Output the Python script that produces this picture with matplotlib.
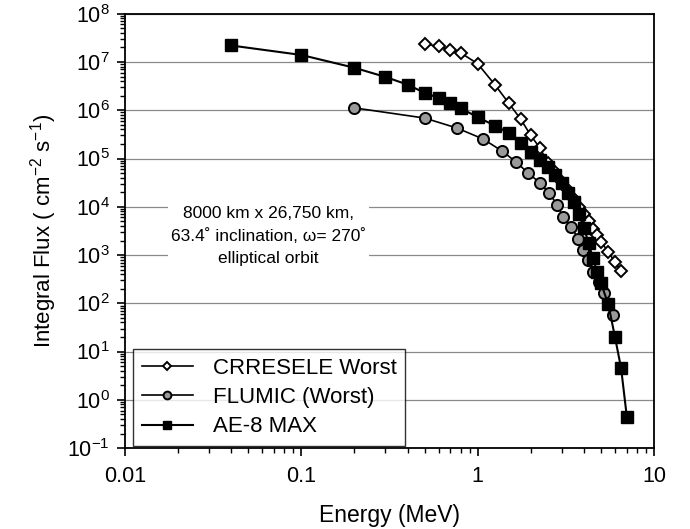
import matplotlib
matplotlib.use("Agg")
import matplotlib.pyplot as plt
from matplotlib.ticker import LogLocator, NullFormatter, FixedLocator, FixedFormatter

plt.rcParams["font.family"] = ["Liberation Sans", "DejaVu Sans"]

# CRRESELE worst case
crres_e = [0.5, 0.6, 0.7, 0.8, 1.0, 1.25, 1.5, 1.75, 2.0, 2.25, 2.5, 2.75, 3.0,
           3.25, 3.5, 3.75, 4.0, 4.25, 4.5, 4.75, 5.0, 5.5, 6.0, 6.5]
crres_f = [2.4e7, 2.1e7, 1.8e7, 1.55e7, 9.2e6, 3.4e6, 1.4e6, 6.6e5, 3.0e5, 1.66e5,
           8.1e4, 5.3e4, 3.2e4, 2.2e4, 1.45e4, 1.0e4, 7.0e3, 5.0e3, 3.5e3, 2.6e3,
           1.9e3, 1.15e3, 7.2e2, 4.6e2]

# FLUMIC (worst)
flumic_e = [0.2, 0.5, 0.76, 1.07, 1.37, 1.65, 1.93, 2.26, 2.54, 2.82, 3.05,
            3.39, 3.71, 3.96, 4.23, 4.52, 4.85, 5.21, 5.87]
flumic_f = [1.12e6, 6.9e5, 4.3e5, 2.55e5, 1.44e5, 8.5e4, 5.0e4, 3.1e4, 1.93e4,
            1.1e4, 6.2e3, 3.8e3, 2.2e3, 1.26e3, 790, 450, 280, 160, 57]

# AE-8 MAX
ae8_e = [0.04, 0.1, 0.2, 0.3, 0.4, 0.5, 0.6, 0.7, 0.8, 1.0, 1.25, 1.5, 1.75,
         2.0, 2.25, 2.5, 2.75, 3.0, 3.25, 3.5, 3.75, 4.0, 4.25, 4.5, 4.75,
         5.0, 5.5, 6.0, 6.5, 7.0]
ae8_f = [2.2e7, 1.4e7, 7.6e6, 4.9e6, 3.4e6, 2.3e6, 1.8e6, 1.4e6, 1.1e6, 7.2e5,
         4.8e5, 3.4e5, 2.1e5, 1.37e5, 9.4e4, 6.7e4, 4.6e4, 3.1e4, 1.95e4, 1.25e4,
         7.0e3, 3.6e3, 1.8e3, 8.5e2, 4.5e2, 2.6e2, 95, 20, 4.5, 0.45]

y_exps = list(range(-1, 9))
y_labels = ["10$^{\\mathregular{%d}}$" % e for e in y_exps]
x_ticks = [0.01, 0.1, 1, 10]
x_labels = ["0.01", "0.1", "1", "10"]

fig = plt.figure(figsize=(6.9, 5.29), dpi=100)
ax = fig.add_axes([0.181, 0.153, 0.767, 0.821])

ax.plot(crres_e, crres_f, color="black", lw=1.2, marker="D", ms=6.5,
        mfc="white", mec="black", mew=1.4, label="CRRESELE Worst", zorder=3)
ax.plot(flumic_e, flumic_f, color="black", lw=1.2, marker="o", ms=8,
        mfc="#9a9a9a", mec="black", mew=1.4, label="FLUMIC (Worst)", zorder=4)
ax.plot(ae8_e, ae8_f, color="black", lw=1.5, marker="s", ms=8.5,
        mfc="black", mec="black", label="AE-8 MAX", zorder=5)

ax.set_xscale("log")
ax.set_yscale("log")
ax.set_xlim(0.01, 10)
ax.set_ylim(0.1, 1e8)

ax.xaxis.set_major_locator(FixedLocator(x_ticks))
ax.xaxis.set_major_formatter(FixedFormatter(x_labels))
ax.xaxis.set_minor_locator(LogLocator(base=10, subs=range(2, 10)))
ax.xaxis.set_minor_formatter(NullFormatter())

ax.yaxis.set_major_locator(FixedLocator([10.0 ** e for e in y_exps]))
ax.yaxis.set_major_formatter(FixedFormatter(y_labels))
ax.yaxis.set_minor_locator(LogLocator(base=10, subs=range(2, 10)))
ax.yaxis.set_minor_formatter(NullFormatter())

ax.tick_params(which="major", direction="out", length=6, width=1.2,
               labelsize=15.5, pad=7)
ax.tick_params(which="minor", direction="out", length=3.5, width=1)
ax.tick_params(axis="y", which="major", pad=5)

ax.grid(True, which="major", axis="y", color="#8a8a8a", lw=0.9)
for s in ax.spines.values():
    s.set_linewidth(1.3)

ax.set_xlabel("Energy (MeV)", fontsize=16.5, labelpad=12)
ax.set_ylabel("Integral Flux ( cm$^{\\mathregular{-2}}$ s$^{\\mathregular{-1}}$)",
              fontsize=16, labelpad=6)

ax.text(0.065, 2.5e3, "8000 km x 26,750 km,\n63.4\u02da inclination, \u03c9= 270\u02da\nelliptical orbit",
        ha="center", va="center", fontsize=12.5, linespacing=1.55, zorder=6,
        bbox=dict(facecolor="white", edgecolor="none", pad=2))

leg = ax.legend(loc="lower left", bbox_to_anchor=(0.012, 0.0), fontsize=16,
                frameon=True, fancybox=False, edgecolor="black",
                handlelength=2.3, labelspacing=0.38, borderpad=0.38,
                handletextpad=0.9, markerscale=0.7, borderaxespad=0.1)
leg.get_frame().set_linewidth(1.0)

fig.savefig("out.png", dpi=100)
